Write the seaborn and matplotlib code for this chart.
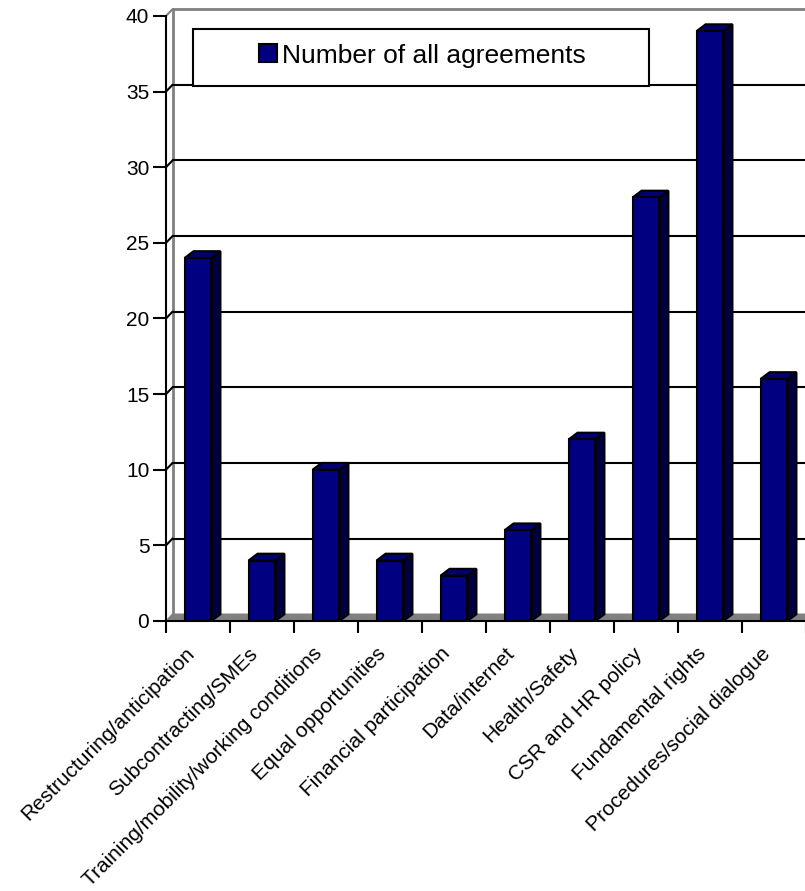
import matplotlib
matplotlib.use("Agg")
import matplotlib.pyplot as plt
from matplotlib.patches import Polygon, Rectangle
from matplotlib.transforms import ScaledTranslation
import seaborn as sns
import pandas as pd

# data
topics = ["Restructuring/anticipation", "Subcontracting/SMEs",
          "Training/mobility/working conditions", "Equal opportunities",
          "Financial participation", "Data/internet", "Health/Safety",
          "CSR and HR policy", "Fundamental rights", "Procedures/social dialogue"]
agreements = [24, 4, 10, 4, 3, 6, 12, 28, 39, 16]
y_ticks = [0, 5, 10, 15, 20, 25, 30, 35, 40]
series_name = "Number of all agreements"

df = pd.DataFrame({"topic": topics, "agreements": agreements})

sns.set_theme(style="white")
plt.rcParams["font.family"] = ["Liberation Sans", "DejaVu Sans"]
plt.rcParams["text.color"] = "black"
plt.rcParams["xtick.color"] = "black"
plt.rcParams["ytick.color"] = "black"

fig = plt.figure(figsize=(8.05, 8.91), dpi=100)
ax = fig.add_axes([166 / 805, 270 / 891, 640 / 805, 605 / 891])

front = "#000080"
side = "#00003f"
top = "#000070"
grey = "#808080"

sns.barplot(data=df, x="topic", y="agreements", color=front, saturation=1,
            width=0.42, edgecolor="black", linewidth=1.5, label=series_name,
            ax=ax, zorder=3)

n = len(topics)
ax.set_xlim(-0.5, n - 0.5)
ax.set_ylim(y_ticks[0], y_ticks[-1])

# 3-D depth in data units
bar_dx = 9 / 64
depth_dy = 0.45
wall_dx = 6.5 / 64

# fake 3-D side and top faces of each bar
for p in ax.patches:
    x0, w, h = p.get_x(), p.get_width(), p.get_height()
    x1 = x0 + w
    ax.add_patch(Polygon([(x1, 0), (x1 + bar_dx, depth_dy), (x1 + bar_dx, h + depth_dy), (x1, h)],
                         closed=True, facecolor=side, edgecolor="black", lw=1.5, zorder=2.9))
    ax.add_patch(Polygon([(x0, h), (x0 + bar_dx, h + depth_dy), (x1 + bar_dx, h + depth_dy), (x1, h)],
                         closed=True, facecolor=top, edgecolor="black", lw=1.5, zorder=2.9))

# floor
x_left, x_right = -0.5, n - 0.5
ax.add_patch(Polygon([(x_left, 0), (x_right + 0.2, 0), (x_right + 0.2 + wall_dx, depth_dy),
                      (x_left + wall_dx, depth_dy)], closed=True, facecolor=grey,
                     edgecolor=grey, lw=1, zorder=1.5, clip_on=False))

# back wall gridlines
for v in y_ticks[1:-1]:
    ax.plot([x_left, x_left + wall_dx], [v, v + depth_dy], color="black", lw=1.5, zorder=1.2)
    ax.plot([x_left + wall_dx, x_right + 0.3], [v + depth_dy, v + depth_dy], color="black",
            lw=1.5, zorder=1.2, clip_on=False)
top_v = y_ticks[-1]
ax.plot([x_left, x_left + wall_dx], [top_v, top_v + depth_dy], color=grey, lw=1.5,
        zorder=1.2, clip_on=False)
ax.plot([x_left + wall_dx, x_right + 0.3], [top_v + depth_dy, top_v + depth_dy], color=grey,
        lw=2, zorder=1.2, clip_on=False)
ax.plot([x_left + wall_dx, x_left + wall_dx], [depth_dy, top_v + depth_dy], color=grey,
        lw=2, zorder=1.1, clip_on=False)

# axes styling
for s in ["top", "right"]:
    ax.spines[s].set_visible(False)
for s in ["left", "bottom"]:
    ax.spines[s].set_color("black")
    ax.spines[s].set_linewidth(1.5)
    ax.spines[s].set_zorder(4)

ax.set_xlabel("")
ax.set_ylabel("")
ax.set_yticks(y_ticks)
ax.tick_params(axis="y", length=9.5, width=1.5, color="black", labelcolor="black",
               labelsize=15, pad=2.5, direction="out", left=True)
ax.set_xticks(range(n))
ax.set_xticklabels(topics)
ax.set_xticks([i - 0.5 for i in range(n + 1)], minor=True)
ax.tick_params(axis="x", which="major", length=0, pad=16.5, labelsize=15,
               labelcolor="black")
ax.tick_params(axis="x", which="minor", length=8.6, width=1.5, color="black",
               direction="out", bottom=True)
shift = ScaledTranslation(-13.6 / 100, 0, fig.dpi_scale_trans)
for lab in ax.get_xticklabels():
    lab.set_rotation(45)
    lab.set_ha("right")
    lab.set_va("top")
    lab.set_rotation_mode("anchor")
    lab.set_transform(lab.get_transform() + shift)

# legend box
ax.add_patch(Rectangle((193 / 805, 1 - 86 / 891), (649 - 193) / 805, 57 / 891,
                       transform=fig.transFigure, facecolor="white", edgecolor="black",
                       lw=1.5, zorder=4, clip_on=False))
leg = ax.legend(loc="center left", bbox_to_anchor=(259 / 805, 1 - 55.5 / 891),
                bbox_transform=fig.transFigure, frameon=False, fontsize=19, borderpad=0,
                borderaxespad=0, handlelength=0.68, handleheight=0.68, handletextpad=0.2)
for t in leg.get_texts():
    t.set_color("black")

fig.savefig("out.png", dpi=100, facecolor="white")
